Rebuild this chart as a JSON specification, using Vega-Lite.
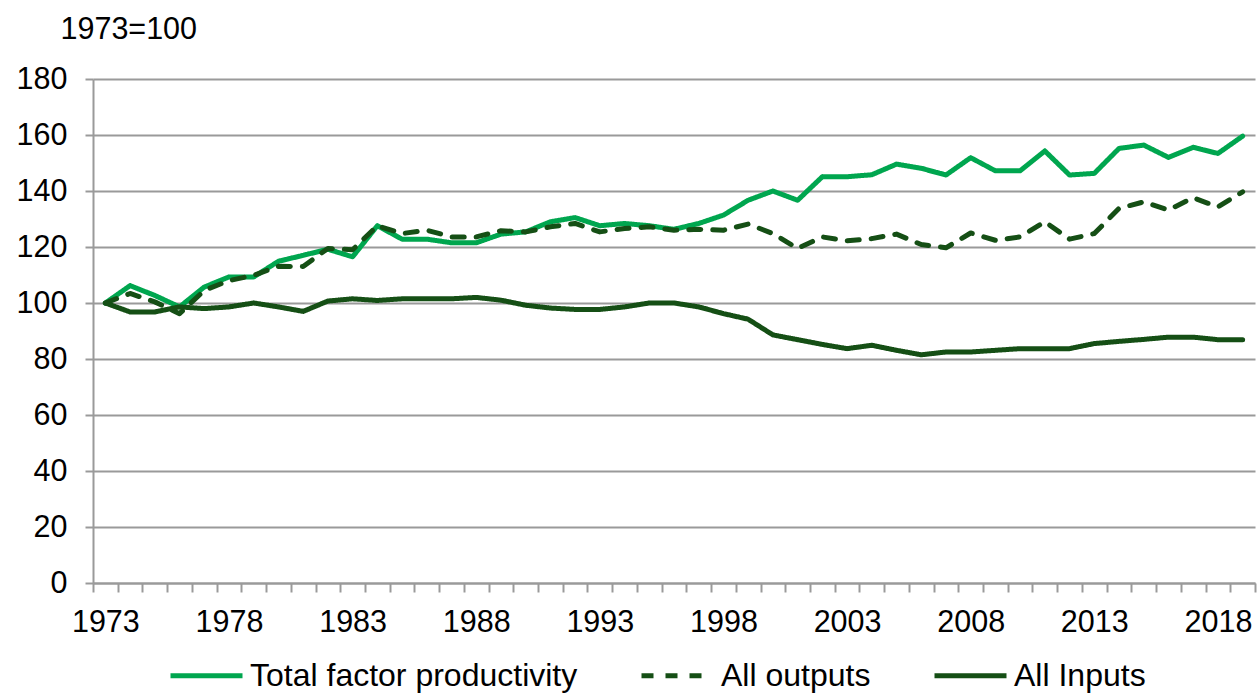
{
  "$schema": "https://vega.github.io/schema/vega-lite/v6.json",
  "width": 1162,
  "height": 504,
  "autosize": {"type": "none"},
  "padding": {"left": 93, "top": 79, "right": 3, "bottom": 110},
  "background": "white",
  "config": {
    "view": {"stroke": null},
    "font": "Liberation Sans"
  },
  "data": {
    "values": [
      {"year": 1973, "Total factor productivity": 100, "All outputs": 100, "All Inputs": 100},
      {"year": 1974, "Total factor productivity": 106.2, "All outputs": 103.4, "All Inputs": 96.8},
      {"year": 1975, "Total factor productivity": 102.7, "All outputs": 100.4, "All Inputs": 96.8},
      {"year": 1976, "Total factor productivity": 98.6, "All outputs": 96.2, "All Inputs": 98.6},
      {"year": 1977, "Total factor productivity": 105.7, "All outputs": 104.5, "All Inputs": 98},
      {"year": 1978, "Total factor productivity": 109.3, "All outputs": 108, "All Inputs": 98.6},
      {"year": 1979, "Total factor productivity": 109.3, "All outputs": 109.9, "All Inputs": 100},
      {"year": 1980, "Total factor productivity": 114.9, "All outputs": 113.1, "All Inputs": 98.6},
      {"year": 1981, "Total factor productivity": 117, "All outputs": 113, "All Inputs": 97},
      {"year": 1982, "Total factor productivity": 119.2, "All outputs": 119.5, "All Inputs": 100.7},
      {"year": 1983, "Total factor productivity": 116.5, "All outputs": 119, "All Inputs": 101.5},
      {"year": 1984, "Total factor productivity": 127.6, "All outputs": 127.6, "All Inputs": 100.9},
      {"year": 1985, "Total factor productivity": 122.8, "All outputs": 124.8, "All Inputs": 101.5},
      {"year": 1986, "Total factor productivity": 122.8, "All outputs": 126, "All Inputs": 101.5},
      {"year": 1987, "Total factor productivity": 121.5, "All outputs": 123.6, "All Inputs": 101.5},
      {"year": 1988, "Total factor productivity": 121.5, "All outputs": 123.6, "All Inputs": 102},
      {"year": 1989, "Total factor productivity": 124.6, "All outputs": 125.8, "All Inputs": 101},
      {"year": 1990, "Total factor productivity": 125.4, "All outputs": 125.4, "All Inputs": 99.2},
      {"year": 1991, "Total factor productivity": 129, "All outputs": 127.2, "All Inputs": 98.2},
      {"year": 1992, "Total factor productivity": 130.5, "All outputs": 128.4, "All Inputs": 97.7},
      {"year": 1993, "Total factor productivity": 127.6, "All outputs": 125.4, "All Inputs": 97.7},
      {"year": 1994, "Total factor productivity": 128.4, "All outputs": 126.6, "All Inputs": 98.6},
      {"year": 1995, "Total factor productivity": 127.6, "All outputs": 127.2, "All Inputs": 100},
      {"year": 1996, "Total factor productivity": 126.3, "All outputs": 126, "All Inputs": 100},
      {"year": 1997, "Total factor productivity": 128.4, "All outputs": 126.3, "All Inputs": 98.6},
      {"year": 1998, "Total factor productivity": 131.4, "All outputs": 126, "All Inputs": 96.2},
      {"year": 1999, "Total factor productivity": 136.7, "All outputs": 128.2, "All Inputs": 94.2},
      {"year": 2000, "Total factor productivity": 140, "All outputs": 124.8, "All Inputs": 88.6},
      {"year": 2001, "Total factor productivity": 136.7, "All outputs": 119.5, "All Inputs": 86.9},
      {"year": 2002, "Total factor productivity": 145.1, "All outputs": 123.6, "All Inputs": 85.2},
      {"year": 2003, "Total factor productivity": 145.1, "All outputs": 122.2, "All Inputs": 83.7},
      {"year": 2004, "Total factor productivity": 145.8, "All outputs": 123, "All Inputs": 84.9},
      {"year": 2005, "Total factor productivity": 149.6, "All outputs": 124.6, "All Inputs": 83.1},
      {"year": 2006, "Total factor productivity": 148.1, "All outputs": 120.9, "All Inputs": 81.5},
      {"year": 2007, "Total factor productivity": 145.7, "All outputs": 119.7, "All Inputs": 82.5},
      {"year": 2008, "Total factor productivity": 151.9, "All outputs": 125, "All Inputs": 82.5},
      {"year": 2009, "Total factor productivity": 147.2, "All outputs": 122.4, "All Inputs": 83.1},
      {"year": 2010, "Total factor productivity": 147.2, "All outputs": 123.6, "All Inputs": 83.7},
      {"year": 2011, "Total factor productivity": 154.3, "All outputs": 129, "All Inputs": 83.7},
      {"year": 2012, "Total factor productivity": 145.7, "All outputs": 122.8, "All Inputs": 83.7},
      {"year": 2013, "Total factor productivity": 146.3, "All outputs": 124.8, "All Inputs": 85.5},
      {"year": 2014, "Total factor productivity": 155.2, "All outputs": 133.8, "All Inputs": 86.3},
      {"year": 2015, "Total factor productivity": 156.4, "All outputs": 136.1, "All Inputs": 87},
      {"year": 2016, "Total factor productivity": 152, "All outputs": 133.2, "All Inputs": 87.8},
      {"year": 2017, "Total factor productivity": 155.6, "All outputs": 137.6, "All Inputs": 87.8},
      {"year": 2018, "Total factor productivity": 153.4, "All outputs": 134.3, "All Inputs": 86.9},
      {"year": 2019, "Total factor productivity": 159.6, "All outputs": 139.7, "All Inputs": 86.9}
    ]
  },
  "transform": [
    {"fold": ["Total factor productivity", "All outputs", "All Inputs"], "as": ["series", "value"]}
  ],
  "mark": {"type": "line", "strokeWidth": 5, "strokeJoin": "round", "strokeCap": "round"},
  "encoding": {
    "x": {
      "field": "year",
      "type": "quantitative",
      "scale": {"domain": [1972.5, 2019.5], "nice": false, "zero": false},
      "axis": {
        "title": null,
        "grid": false,
        "values": [1972.5,1973.5,1974.5,1975.5,1976.5,1977.5,1978.5,1979.5,1980.5,1981.5,1982.5,1983.5,1984.5,1985.5,1986.5,1987.5,1988.5,1989.5,1990.5,1991.5,1992.5,1993.5,1994.5,1995.5,1996.5,1997.5,1998.5,1999.5,2000.5,2001.5,2002.5,2003.5,2004.5,2005.5,2006.5,2007.5,2008.5,2009.5,2010.5,2011.5,2012.5,2013.5,2014.5,2015.5,2016.5,2017.5,2018.5,2019.5],
        "labelExpr": "(datum.value - 1972.5) % 5 == 0 ? '' + (datum.value + 0.5) : ''",
        "labelOffset": 12.36,
        "labelOverlap": false,
        "labelFlush": false,
        "labelBound": false,
        "labelFontSize": 30.5,
        "labelColor": "#000000",
        "labelPadding": 15,
        "domainColor": "#9a9a9a",
        "domainWidth": 2,
        "tickColor": "#9a9a9a",
        "tickWidth": 2,
        "tickSize": 9
      }
    },
    "y": {
      "field": "value",
      "type": "quantitative",
      "scale": {"domain": [0, 180], "nice": false},
      "axis": {
        "title": "1973=100",
        "titleAngle": 0,
        "titleAlign": "left",
        "titleBaseline": "middle",
        "titleX": -33,
        "titleY": -50,
        "titleFontSize": 30.5,
        "titleFontWeight": "normal",
        "titleColor": "#000000",
        "values": [0, 20, 40, 60, 80, 100, 120, 140, 160, 180],
        "labelFontSize": 30.5,
        "labelColor": "#000000",
        "labelPadding": 18,
        "labelFlush": false,
        "gridColor": "#9a9a9a",
        "gridWidth": 2,
        "domainColor": "#9a9a9a",
        "domainWidth": 2,
        "tickColor": "#9a9a9a",
        "tickWidth": 2,
        "tickSize": 8
      }
    },
    "color": {
      "field": "series",
      "type": "nominal",
      "scale": {
        "domain": ["Total factor productivity", "All outputs", "All Inputs"],
        "range": ["#00a64f", "#154f15", "#154f15"]
      },
      "legend": {
        "title": null,
        "orient": "none",
        "direction": "horizontal",
        "legendX": 75,
        "legendY": 558,
        "symbolType": "stroke",
        "symbolSize": 5184,
        "symbolStrokeWidth": 5,
        "labelFontSize": 32,
        "labelColor": "#000000",
        "labelLimit": 1000,
        "labelOffset": 5,
        "columnPadding": 53
      }
    },
    "strokeDash": {
      "field": "series",
      "type": "nominal",
      "scale": {
        "domain": ["Total factor productivity", "All outputs", "All Inputs"],
        "range": [[1, 0], [12, 12], [1, 0]]
      },
      "legend": {
        "title": null,
        "orient": "none",
        "direction": "horizontal",
        "legendX": 75,
        "legendY": 558,
        "symbolType": "stroke",
        "symbolSize": 5184,
        "symbolStrokeWidth": 5,
        "labelFontSize": 32,
        "labelColor": "#000000",
        "labelLimit": 1000,
        "labelOffset": 5,
        "columnPadding": 53
      }
    }
  }
}
